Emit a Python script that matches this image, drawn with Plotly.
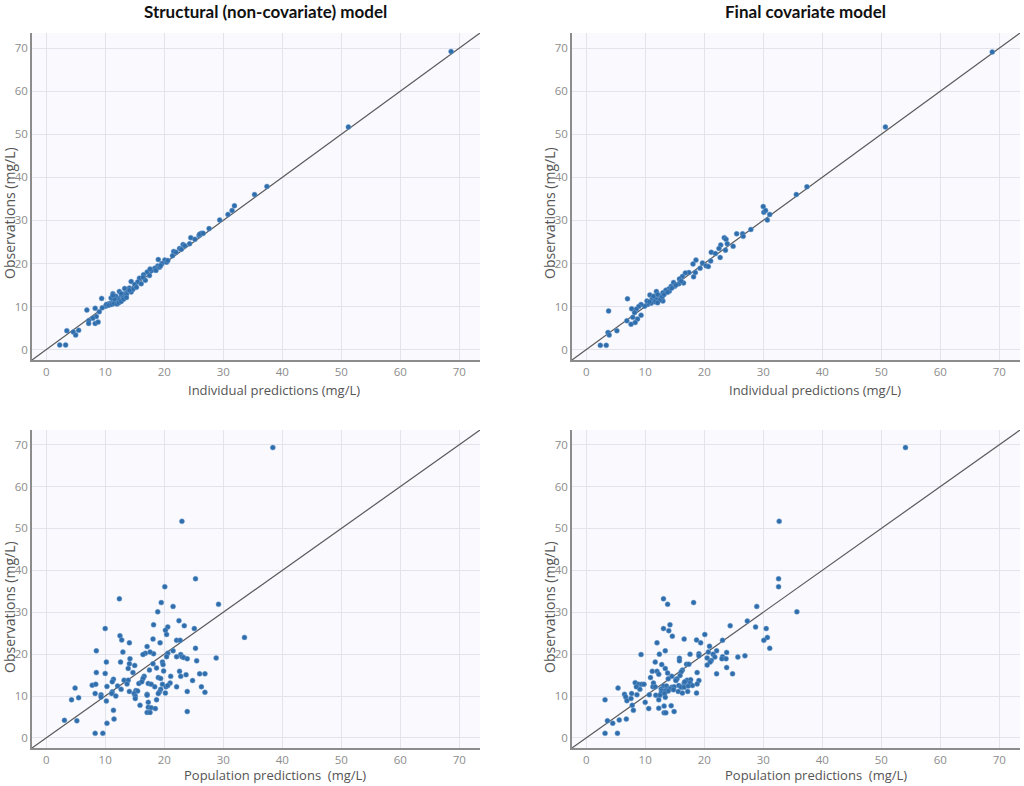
import plotly.graph_objects as go
from plotly.subplots import make_subplots

# Structural model - individual predictions vs observations
ipred_s = [68.6, 51.2, 37.4, 35.3, 31.9, 31.5, 30.8, 29.4, 27.6, 26.3, 25.9, 24.5, 25.2, 24.3, 23.2,
           22.6, 21.6, 21.4, 20.1, 19.0, 19.6, 18.9, 18.4, 17.8, 17.1, 16.5, 15.8, 14.4, 15.5, 15.0,
           14.1, 13.3, 12.4, 11.3, 11.8, 12.7, 13.3, 13.8, 12.2, 11.3, 11.9, 10.7, 10.1, 9.5, 9.4,
           6.9, 8.3, 9.0, 8.5, 7.9, 7.2, 7.2, 8.3, 8.8, 3.5, 5.5, 4.6, 5.0, 2.3, 3.3,
           11.0, 11.6, 12.4, 13.0, 13.6, 14.4, 14.7, 15.3, 16.1, 16.8, 17.5, 16.4, 18.6, 19.2, 20.4,
           20.6, 22.0, 22.9, 23.5, 26.0, 26.6, 10.2, 10.6, 11.1, 11.5, 12.0, 12.3, 12.7, 13.1, 13.6,
           11.3, 12.7, 14.1, 17.6, 19.4]
obs_s = [69.2, 51.7, 37.9, 36.0, 33.4, 32.3, 31.4, 30.1, 28.1, 27.0, 26.5, 26.0, 25.6, 24.6, 24.4,
         23.5, 22.8, 21.8, 20.8, 20.9, 20.0, 19.4, 18.9, 18.3, 18.0, 17.4, 16.6, 15.8, 15.7, 15.1,
         14.3, 14.2, 13.5, 13.0, 12.4, 12.2, 13.0, 13.4, 11.7, 11.2, 11.1, 10.7, 10.1, 9.7, 11.9,
         9.2, 9.6, 8.8, 7.7, 7.3, 6.7, 6.1, 6.1, 6.4, 4.4, 4.5, 4.1, 3.4, 1.1, 1.1,
         12.0, 11.7, 11.5, 12.2, 12.8, 13.4, 14.0, 14.5, 15.3, 16.1, 17.2, 16.8, 18.4, 19.1, 20.3,
         20.7, 22.6, 23.3, 24.1, 26.8, 27.0, 10.5, 10.3, 10.5, 10.7, 10.6, 10.9, 11.2, 11.7, 12.1,
         12.6, 13.0, 13.8, 18.7, 19.5]

# Final covariate model - individual predictions vs observations
ipred_f = [68.8, 50.7, 37.4, 35.6, 30.0, 30.1, 30.4, 31.1, 30.7, 27.9, 26.5, 26.6, 25.5, 23.4, 23.7,
           24.9, 23.9, 22.8, 22.5, 23.6, 21.2, 21.9, 22.7, 21.1, 18.6, 18.1, 19.7, 20.3, 20.7, 19.3,
           18.5, 18.2, 17.4, 16.8, 16.3, 15.8, 16.5, 15.7, 14.8, 14.4, 15.0, 14.0, 13.5, 14.1, 13.0,
           12.4, 11.9, 10.8, 11.2, 11.8, 12.7, 13.0, 11.6, 11.0, 10.4, 9.9, 9.3, 8.9, 8.5, 7.7,
           7.0, 8.2, 9.3, 7.9, 8.7, 6.9, 8.3, 7.6, 3.8, 3.7, 3.9, 5.2, 2.4, 3.4,
           11.4, 12.1, 12.5, 12.9, 13.2, 13.8, 14.5, 15.2, 16.1, 10.3, 10.7, 12.1]
obs_f = [69.1, 51.7, 37.8, 36.0, 33.2, 31.9, 32.3, 31.4, 30.1, 27.9, 26.9, 26.3, 26.9, 26.0, 25.6,
         24.0, 24.6, 24.3, 23.5, 23.1, 22.6, 22.3, 21.4, 20.6, 20.8, 19.9, 20.1, 19.5, 19.3, 18.9,
         17.9, 16.9, 17.9, 17.8, 17.0, 16.4, 15.5, 15.3, 15.6, 14.7, 14.7, 14.1, 13.8, 13.6, 13.2,
         12.6, 13.5, 12.7, 11.8, 11.7, 12.1, 11.3, 11.1, 10.8, 10.5, 10.1, 10.5, 10.0, 9.4, 9.5,
         11.8, 8.6, 8.0, 7.5, 7.1, 6.7, 6.3, 5.9, 9.0, 4.0, 3.4, 4.4, 1.0, 1.0,
         12.4, 12.8, 11.5, 12.3, 12.8, 13.3, 14.3, 15.0, 15.9, 11.3, 11.1, 10.9]

# Structural model - population predictions vs observations
pred_s = [38.4, 23.0, 25.3, 20.1, 12.4, 19.5, 21.5, 29.2, 18.9, 10.0, 18.2, 22.5, 20.6, 23.4, 25.1,
          20.2, 20.4, 12.5, 12.8, 18.1, 22.1, 22.7, 14.1, 19.3, 33.6, 8.5, 25.3, 21.5, 17.1, 13.0,
          16.8, 16.4, 18.2, 20.6, 17.6, 20.4, 22.1, 22.8, 23.0, 23.3, 23.9, 25.5, 28.8, 10.2, 12.6,
          14.2, 14.1, 15.0, 18.1, 19.7, 19.8, 13.9, 18.7, 17.5, 8.5, 10.0, 14.7, 19.9, 22.6, 26.0,
          26.9, 23.7, 22.8, 21.1, 16.6, 16.4, 19.0, 19.4, 11.4, 13.2, 13.9, 11.2, 15.7, 16.2, 17.3,
          17.8, 19.7, 21.0, 24.8, 7.8, 8.4, 13.7, 12.1, 10.3, 18.4, 20.3, 20.6, 22.1, 26.3, 4.9,
          12.7, 14.1, 15.2, 15.5, 19.4, 19.2, 23.9, 26.9, 8.3, 11.2, 11.1, 9.3, 11.8, 14.9, 17.1,
          17.1, 19.0, 20.2, 9.3, 15.1, 15.1, 5.5, 4.3, 10.2, 17.3, 18.7, 15.9, 17.3, 17.8, 18.5,
          17.1, 17.6, 23.9, 11.4, 3.1, 5.2, 11.5, 10.3, 8.3, 9.6]
obs_pop_s = [69.3, 51.7, 38.0, 36.1, 33.2, 32.3, 31.4, 31.9, 30.1, 26.1, 27.0, 28.0, 26.5, 26.8, 26.1,
             25.7, 24.7, 24.4, 23.4, 23.6, 23.3, 23.3, 22.7, 22.7, 24.0, 20.8, 21.4, 20.8, 21.8, 20.5,
             20.2, 19.9, 20.1, 20.2, 20.5, 19.4, 19.4, 19.9, 19.4, 19.2, 18.9, 18.4, 19.1, 18.1, 18.1,
             18.9, 17.7, 17.3, 17.7, 18.1, 17.5, 16.6, 16.7, 16.2, 15.6, 15.4, 15.6, 16.0, 15.9, 15.3,
             15.3, 15.1, 14.7, 14.7, 14.7, 14.2, 14.4, 14.2, 14.0, 13.8, 13.8, 13.4, 13.0, 13.4, 13.0,
             12.8, 12.8, 13.1, 13.7, 12.6, 12.8, 12.9, 12.4, 12.3, 12.2, 12.2, 12.5, 12.2, 12.2, 11.9,
             11.6, 11.1, 11.3, 11.2, 11.6, 11.0, 11.1, 10.9, 10.6, 11.0, 10.6, 10.3, 10.0, 10.6, 10.4,
             10.2, 10.6, 10.7, 9.8, 10.0, 9.4, 9.6, 9.1, 8.8, 8.5, 9.1, 7.8, 7.3, 7.2, 7.0,
             6.1, 6.1, 6.3, 6.6, 4.2, 4.1, 4.5, 3.5, 1.1, 1.1]

# Final covariate model - population predictions vs observations
pred_f = [54.1, 32.7, 32.6, 32.6, 35.7, 13.1, 13.8, 18.2, 28.9, 14.2, 24.4, 27.3, 28.7, 30.5, 13.1,
          14.0, 20.1, 14.6, 16.6, 18.7, 23.1, 30.7, 30.1, 19.4, 12.0, 20.9, 31.1, 13.4, 22.1, 20.7,
          23.8, 19.1, 17.6, 12.4, 9.3, 21.5, 19.1, 21.8, 25.7, 26.9, 23.1, 20.5, 23.0, 23.7, 15.8,
          15.8, 21.2, 21.0, 11.7, 17.0, 17.4, 12.8, 20.5, 16.3, 16.1, 13.4, 23.8, 11.2, 12.0, 13.8,
          18.8, 22.1, 24.8, 12.3, 15.9, 14.5, 10.9, 13.9, 15.2, 15.4, 17.1, 17.7, 19.1, 15.2, 8.3,
          11.4, 16.6, 16.7, 17.6, 18.8, 8.9, 9.4, 9.8, 8.5, 11.3, 11.7, 13.1, 13.6, 14.5, 14.9,
          15.7, 16.1, 16.6, 17.3, 18.0, 5.4, 12.7, 13.7, 14.2, 9.1, 12.8, 13.4, 13.9, 14.8, 15.6,
          17.2, 12.7, 13.3, 16.3, 18.7, 6.5, 7.7, 8.6, 10.7, 11.8, 12.5, 6.7, 13.4, 7.6, 6.9,
          3.2, 12.3, 10.0, 7.8, 14.4, 13.2, 10.6, 12.3, 8.0, 14.9, 13.2, 13.5, 3.6, 6.8, 5.6,
          4.5, 3.2, 5.3]
obs_pop_f = [69.3, 51.7, 38.0, 36.1, 30.1, 33.2, 31.9, 32.3, 31.4, 27.0, 26.8, 27.9, 26.5, 26.1, 26.1,
             25.6, 24.7, 24.3, 23.6, 23.4, 23.3, 24.0, 23.3, 22.7, 22.7, 21.9, 21.4, 20.8, 20.8, 20.5,
             20.4, 20.1, 20.0, 20.0, 19.9, 20.0, 19.6, 19.3, 19.3, 19.6, 19.4, 19.1, 18.9, 18.9, 19.0,
             18.4, 18.5, 18.1, 18.1, 17.6, 17.6, 17.5, 17.4, 16.2, 15.8, 16.6, 16.8, 15.9, 15.9, 15.5,
             15.6, 15.3, 15.3, 15.2, 14.9, 14.7, 14.4, 14.1, 13.9, 14.1, 13.8, 13.9, 13.7, 13.7, 13.2,
             13.1, 13.1, 13.4, 13.1, 12.9, 12.8, 12.8, 12.8, 12.2, 12.2, 12.2, 12.4, 12.4, 12.1, 12.2,
             12.5, 12.1, 12.1, 12.4, 12.5, 11.9, 11.7, 11.6, 11.7, 11.6, 11.3, 11.2, 11.2, 11.5, 11.1,
             11.1, 10.7, 10.6, 10.7, 10.7, 10.4, 10.6, 10.3, 10.3, 10.2, 10.2, 9.8, 9.7, 9.4, 8.9,
             9.1, 9.1, 8.5, 7.8, 7.7, 7.6, 7.0, 7.1, 6.6, 6.3, 6.0, 6.0, 4.1, 4.5, 4.3,
             3.5, 1.1, 1.1]

titles = ["Structural (non-covariate) model", "Final covariate model"]
x_titles = ["Individual predictions (mg/L)", "Individual predictions (mg/L)",
            "Population predictions  (mg/L)", "Population predictions  (mg/L)"]
y_title = "Observations (mg/L)"

W, H = 1024, 786


def px_x(v):
    return v / W


def px_y(v):
    return 1 - v / H


fig = make_subplots(rows=2, cols=2)

panels = [(ipred_s, obs_s, 1, 1), (ipred_f, obs_f, 1, 2),
          (pred_s, obs_pop_s, 2, 1), (pred_f, obs_pop_f, 2, 2)]

for xs, ys, r, c in panels:
    fig.add_trace(go.Scatter(x=[-5, 80], y=[-5, 80], mode="lines",
                             line=dict(color="#595959", width=1.2),
                             hoverinfo="skip", showlegend=False), row=r, col=c)
    fig.add_trace(go.Scatter(x=xs, y=ys, mode="markers",
                             marker=dict(color="#2f6dab", size=5,
                                         line=dict(color="#6f9fd0", width=0.5)),
                             showlegend=False), row=r, col=c)

axis_style = dict(range=[-2.4, 73.5], tickvals=[0, 10, 20, 30, 40, 50, 60, 70],
                  showgrid=True, gridcolor="#e3e3ec", gridwidth=1, zeroline=False,
                  showline=True, linecolor="#8c8c8c", linewidth=1.5,
                  ticks="", tickfont=dict(family="Open Sans", size=11.5, color="#8c8c8c"))
fig.update_xaxes(**axis_style)
fig.update_yaxes(**axis_style)

# subplot positions in pixels
left_dom = [px_x(32), px_x(480)]
right_dom = [px_x(572), px_x(1020)]
top_dom = [px_y(360), px_y(33)]
bot_dom = [px_y(748), px_y(430)]
fig.update_layout(
    xaxis=dict(domain=left_dom), yaxis=dict(domain=top_dom),
    xaxis2=dict(domain=right_dom), yaxis2=dict(domain=top_dom),
    xaxis3=dict(domain=left_dom), yaxis3=dict(domain=bot_dom),
    xaxis4=dict(domain=right_dom), yaxis4=dict(domain=bot_dom),
)

annots = []
for t, cx in zip(titles, [265, 805]):
    annots.append(dict(text="<b>" + t + "</b>", x=px_x(cx), y=px_y(11),
                       xref="paper", yref="paper", showarrow=False,
                       xanchor="center", yanchor="middle",
                       font=dict(family="Lato", size=17, color="#111111")))
for t, cx, cy in zip(x_titles, [274, 815, 275, 816], [390, 390, 786, 786]):
    annots.append(dict(text=t, x=px_x(cx), y=px_y(cy), xref="paper", yref="paper",
                       showarrow=False, xanchor="center",
                       yanchor="middle" if cy < 400 else "bottom",
                       font=dict(family="Open Sans", size=13, color="#555555")))
for cx, cy in [(9, 213), (549, 213), (9, 607), (549, 607)]:
    annots.append(dict(text=y_title, x=px_x(cx), y=px_y(cy), xref="paper", yref="paper",
                       showarrow=False, textangle=-90, xanchor="center", yanchor="middle",
                       font=dict(family="Open Sans", size=14, color="#555555")))

fig.update_layout(
    width=W, height=H,
    margin=dict(l=0, r=0, t=0, b=0),
    paper_bgcolor="white", plot_bgcolor="#f9f9fe",
    annotations=annots,
    showlegend=False,
)

# drop the browser's default body margin so the figure fills the window
fig.write_html("out.html", config={"displayModeBar": False},
               post_script="document.body.style.margin = '0px';")
